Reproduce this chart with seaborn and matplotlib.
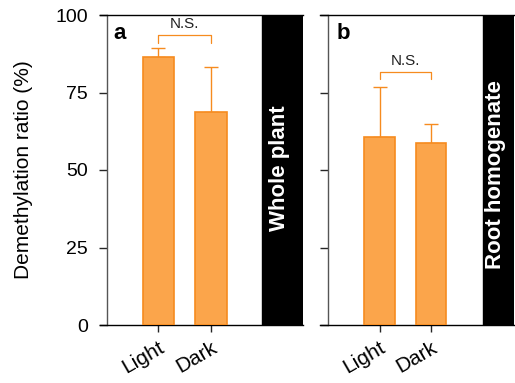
import pandas as pd
import numpy as np
import matplotlib
matplotlib.use('Agg')
import matplotlib.pyplot as plt
import matplotlib.transforms as mtransforms
import seaborn as sns

# data
conditions = ['Light', 'Dark']
whole_plant_mean = [86.5, 68.8]
whole_plant_err = [3.0, 14.3]
root_mean = [60.7, 58.6]
root_err = [16.0, 6.3]
panel_names = ['Whole plant', 'Root homogenate']
panel_letters = ['a', 'b']
yticks = [0, 25, 50, 75, 100]

sns.set_style('white')
plt.rcParams['font.family'] = ['Liberation Sans', 'DejaVu Sans']
plt.rcParams['text.color'] = 'black'

fill = '#FBA54B'
edge = '#F68B1F'

W, H = 515, 383
fig = plt.figure(figsize=(W / 100, H / 100), dpi=100)

# axes boxes in pixels; left spine is pushed inward a little like the original
boxes = [
    dict(left=100, right=303, xlim=(-1.11, 2.75), strip=1.97, shift=5.0,
         name_y=50.5, letter_x=0.065),
    dict(left=320, right=514, xlim=(-1.155, 2.61), strip=2.01, shift=5.8,
         name_y=48.5, letter_x=0.083),
]
top, bottom = 15, 325

panels = [(whole_plant_mean, whole_plant_err), (root_mean, root_err)]
brackets = [(93.5, 91.0), (81.7, 79.2)]

for i, (box, (means, errs)) in enumerate(zip(boxes, panels)):
    ax = fig.add_axes([box['left'] / W, (H - bottom) / H,
                       (box['right'] - box['left']) / W, (bottom - top) / H])
    df = pd.DataFrame({'cond': conditions, 'val': means})
    sns.barplot(data=df, x='cond', y='val', ax=ax, color=fill,
                edgecolor=edge, linewidth=1.2, width=0.6, saturation=1,
                errorbar=None, zorder=3)
    x = np.arange(len(conditions))
    # upper error bars only
    ax.errorbar(x, means, yerr=[np.zeros(len(errs)), errs], fmt='none',
                ecolor=edge, elinewidth=1.0, capsize=5, capthick=1.0, zorder=2)

    ax.set_xlim(*box['xlim'])
    ax.set_ylim(0, 100)
    ax.set_yticks(yticks)

    # black label strip on the right
    ax.axvspan(box['strip'], box['xlim'][1], color='black', zorder=4)
    ax.text((box['strip'] + box['xlim'][1]) / 2 - 0.05, box['name_y'],
            panel_names[i], rotation=90, color='white', fontweight='bold',
            fontsize=16, ha='center', va='center', zorder=5)

    # N.S. bracket
    yb, yl = brackets[i]
    ax.plot([0, 0, 1, 1], [yl, yb, yb, yl], color=edge, lw=0.9,
            clip_on=False, zorder=3)
    ax.text(0.5, yb + 1.2, 'N.S.', ha='center', va='bottom', fontsize=11,
            color='#222222')

    trans = mtransforms.blended_transform_factory(ax.transAxes, ax.transData)
    ax.text(box['letter_x'], 92.2, panel_letters[i], transform=trans,
            fontsize=16, fontweight='bold', ha='left', va='baseline')

    ax.set_xlabel('')
    ax.set_xticks(x)
    ax.set_xticklabels(conditions, rotation=30, ha='right',
                       rotation_mode='anchor', fontsize=15)
    ax.tick_params(axis='x', direction='out', length=5, width=1,
                   bottom=True, labelsize=15, pad=4, labelcolor='black')
    ax.tick_params(axis='y', direction='out', length=5.5, width=1,
                   left=True, labelsize=14, pad=8, labelcolor='black')
    if i == 0:
        ax.set_ylabel('Demethylation ratio (%)', fontsize=15, color='black')
        ax.yaxis.set_label_coords(-0.33, 0.5)
    else:
        ax.set_ylabel('')
        ax.set_yticklabels([])
    for s in ['left', 'bottom', 'top']:
        ax.spines[s].set_visible(True)
        ax.spines[s].set_color('black')
        ax.spines[s].set_linewidth(1.0)
    ax.spines['left'].set_color('#555555')
    ax.spines['left'].set_position(('outward', -box['shift']))
    ax.spines['right'].set_visible(False)

fig.savefig('out.png', dpi=100)
